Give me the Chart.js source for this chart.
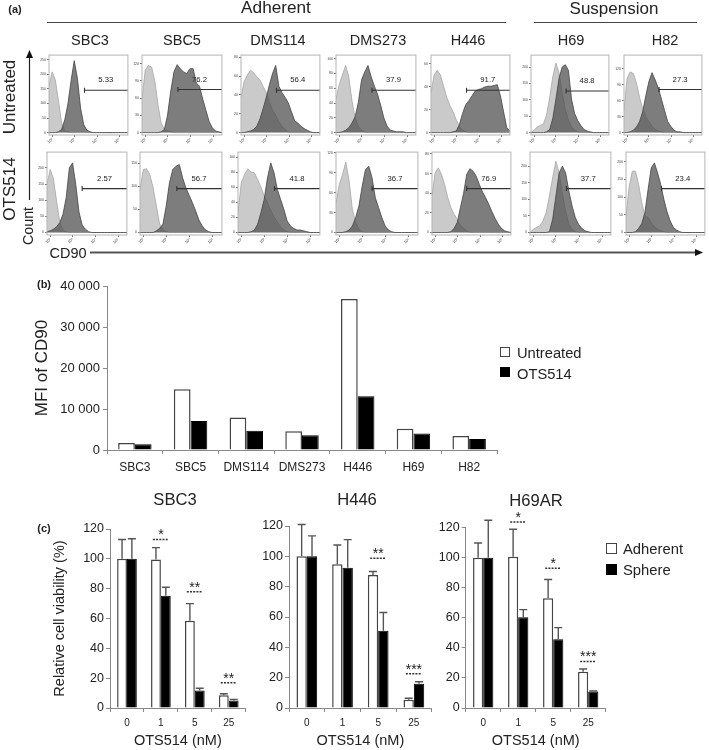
<!DOCTYPE html>
<html>
<head>
<meta charset="utf-8">
<title>CD90 expression and cell viability</title>
<script src="https://cdn.jsdelivr.net/npm/chart.js@4"></script>
<style>
    body { margin: 0; background: #fff; font-family: "Liberation Sans", Arial, sans-serif; color: #222; }
    #page { position: relative; width: 709px; height: 750px; overflow: hidden; filter: blur(0.35px); }
    #page canvas { position: absolute; }
    .txt { position: absolute; white-space: nowrap; transform: translate(-50%, -50%); line-height: 1; }
    .box { position: absolute; width: 10px; height: 10px; box-sizing: border-box; border: 1.5px solid #333; }
    svg { position: absolute; left: 0; top: 0; }
</style>
</head>
<body>
<div id="page">
    <svg width="709" height="750">
        <line x1="47" y1="22.5" x2="506" y2="22.5" stroke="#444" stroke-width="1"/>
        <line x1="534" y1="22.5" x2="697" y2="22.5" stroke="#444" stroke-width="1"/>
        <line x1="29.5" y1="56" x2="29.5" y2="200" stroke="#222" stroke-width="1.2"/>
        <polygon points="29.5,50 26,58 33,58" fill="#111"/>
        <line x1="90" y1="252.5" x2="696" y2="252.5" stroke="#555" stroke-width="2"/>
        <polygon points="703,252.5 695,249 695,256" fill="#111"/>
    </svg>
</div>

<script>
// Panel (a): flow cytometry histograms, height in % of the panel, one value per bin
const histBins = [0, 4, 8, 12, 16, 20, 24, 28, 32, 36, 40, 44, 48, 52, 56, 60, 64, 68, 72, 76, 80, 84, 88, 92, 96, 100];
const cellLines = ['SBC3', 'SBC5', 'DMS114', 'DMS273', 'H446', 'H69', 'H82'];

const isoU_SBC3 = [58, 76, 66, 40, 12, 2, 1, 0, 0, 0, 0, 0, 0, 0, 0, 0, 0, 0, 0, 0, 0, 0, 0, 0, 0, 0];
const cd90U_SBC3 = [0, 0, 0, 1, 4, 16, 36, 65, 90, 68, 31, 10, 3, 1, 0, 0, 0, 0, 0, 0, 0, 0, 0, 0, 0, 0];
const isoU_SBC5 = [42, 78, 84, 82, 65, 35, 12, 4, 2, 1, 0, 0, 0, 0, 0, 0, 0, 0, 0, 0, 0, 0, 0, 0, 0, 0];
const cd90U_SBC5 = [0, 0, 0, 0, 0, 0, 1, 4, 22, 52, 76, 85, 80, 76, 74, 80, 80, 62, 58, 42, 28, 14, 6, 2, 1, 0];
const isoU_DMS114 = [44, 64, 72, 78, 75, 70, 66, 58, 50, 38, 28, 22, 14, 8, 4, 1, 0, 0, 0, 0, 0, 0, 0, 0, 0, 0];
const cd90U_DMS114 = [0, 0, 1, 2, 4, 8, 17, 30, 44, 60, 74, 84, 58, 50, 44, 37, 26, 15, 12, 8, 5, 3, 1, 0, 0, 0];
const isoU_DMS273 = [42, 60, 72, 84, 70, 40, 18, 8, 3, 1, 0, 0, 0, 0, 0, 0, 0, 0, 0, 0, 0, 0, 0, 0, 0, 0];
const cd90U_DMS273 = [0, 0, 1, 3, 6, 12, 20, 38, 66, 76, 84, 70, 58, 48, 34, 18, 8, 3, 2, 1, 1, 1, 0, 0, 0, 0];
const isoU_H446 = [50, 72, 78, 72, 58, 44, 34, 26, 16, 8, 3, 1, 0, 0, 0, 0, 0, 0, 0, 0, 0, 0, 0, 0, 0, 0];
const cd90U_H446 = [0, 0, 0, 0, 0, 0, 0, 1, 2, 10, 24, 35, 40, 46, 52, 54, 55, 57, 58, 58, 59, 60, 46, 26, 6, 2];
const isoU_H69 = [0, 3, 7, 9, 11, 22, 44, 70, 87, 75, 50, 30, 16, 7, 3, 1, 0, 0, 0, 0, 0, 0, 0, 0, 0, 0];
const cd90U_H69 = [0, 0, 0, 0, 0, 1, 4, 18, 42, 68, 82, 85, 78, 42, 24, 15, 9, 4, 2, 1, 0, 0, 0, 0, 0, 0];
const isoU_H82 = [28, 68, 76, 74, 62, 44, 30, 20, 14, 8, 4, 2, 1, 0, 0, 0, 0, 0, 0, 0, 0, 0, 0, 0, 0, 0];
const cd90U_H82 = [0, 0, 1, 3, 7, 14, 26, 46, 64, 75, 66, 56, 42, 28, 14, 8, 3, 1, 1, 0, 0, 0, 0, 0, 0, 0];

const isoT_SBC3 = [58, 76, 65, 38, 12, 3, 1, 0, 0, 0, 0, 0, 0, 0, 0, 0, 0, 0, 0, 0, 0, 0, 0, 0, 0, 0];
const cd90T_SBC3 = [1, 2, 4, 7, 12, 22, 42, 78, 84, 58, 25, 9, 4, 1, 0, 0, 0, 0, 0, 0, 0, 0, 0, 0, 0, 0];
const isoT_SBC5 = [52, 76, 77, 70, 54, 32, 10, 3, 1, 0, 0, 0, 0, 0, 0, 0, 0, 0, 0, 0, 0, 0, 0, 0, 0, 0];
const cd90T_SBC5 = [0, 0, 0, 0, 0, 2, 5, 10, 32, 60, 76, 80, 82, 66, 54, 45, 36, 26, 15, 8, 3, 1, 0, 0, 0, 0];
const isoT_DMS114 = [24, 60, 70, 77, 73, 72, 64, 55, 44, 36, 27, 19, 13, 7, 3, 1, 0, 0, 0, 0, 0, 0, 0, 0, 0, 0];
const cd90T_DMS114 = [0, 0, 0, 0, 1, 3, 10, 24, 40, 66, 84, 72, 52, 40, 28, 14, 8, 5, 3, 3, 2, 1, 0, 0, 0, 0];
const isoT_DMS273 = [35, 58, 70, 85, 62, 28, 12, 4, 1, 0, 0, 0, 0, 0, 0, 0, 0, 0, 0, 0, 0, 0, 0, 0, 0, 0];
const cd90T_DMS273 = [0, 0, 0, 1, 3, 8, 18, 32, 56, 76, 80, 66, 42, 30, 18, 8, 3, 1, 0, 0, 0, 0, 0, 0, 0, 0];
const isoT_H446 = [45, 72, 78, 70, 58, 42, 30, 22, 16, 9, 5, 2, 0, 0, 0, 0, 0, 0, 0, 0, 0, 0, 0, 0, 0, 0];
const cd90T_H446 = [0, 0, 0, 0, 0, 0, 1, 5, 12, 30, 47, 70, 77, 74, 68, 58, 49, 42, 34, 25, 17, 10, 5, 2, 1, 0];
const isoT_H69 = [0, 4, 6, 8, 14, 24, 44, 66, 86, 72, 48, 26, 10, 4, 1, 0, 0, 0, 0, 0, 0, 0, 0, 0, 0, 0];
const cd90T_H69 = [0, 0, 0, 0, 0, 0, 1, 16, 44, 72, 80, 72, 50, 32, 18, 10, 5, 2, 1, 0, 0, 0, 0, 0, 0, 0];
const isoT_H82 = [20, 55, 74, 74, 58, 36, 20, 18, 12, 7, 4, 2, 1, 0, 0, 0, 0, 0, 0, 0, 0, 0, 0, 0, 0, 0];
const cd90T_H82 = [0, 0, 0, 1, 5, 11, 24, 52, 78, 84, 72, 58, 40, 25, 14, 6, 3, 1, 0, 0, 0, 0, 0, 0, 0, 0];

// Gate values, gate start on the x axis and gate height
const gateLabelsU = ['5.33', '76.2', '56.4', '37.9', '91.7', '48.8', '27.3'];
const gateLabelsT = ['2.57', '56.7', '41.8', '36.7', '76.9', '37.7', '23.4'];
const gateStartU = [45, 45, 45, 45, 45, 45, 45];
const gateStartT = [44, 45, 44.5, 44, 44, 45, 45];
const gateHeightU = [53, 54, 53, 53, 53, 52, 54];
const gateHeightT = [53, 53, 53, 53, 53, 53, 53];

const histXTicks = [4, 32, 61, 89];
const histXLabels = ['10²', '10³', '10⁴', '10⁵'];
const histYLabelsU = [
    ['0', '50', '100', '150', '200', '250'], ['0', '30', '60', '90', '120'], ['0', '20', '40', '60', '80'],
    ['0', '20', '40', '60', '80', '100'], ['0', '20', '40', '60'], ['0', '50', '100', '150', '200'], ['0', '30', '60', '90', '120']
];
const histYLabelsT = [
    ['0', '50', '100', '150', '200'], ['0', '50', '100', '150'], ['0', '20', '40', '60', '80', '100'],
    ['0', '30', '60', '90', '120'], ['0', '20', '40', '60', '80'], ['0', '50', '100', '150', '200'], ['0', '50', '100', '150', '200']
];
const histYStepU = [18.2, 21.6, 23.6, 18.5, 28.8, 20.5, 20];
const histYStepT = [19.5, 27.8, 18.1, 24, 23.7, 20, 21.4];

// Panel (b)
const mfiUntreated = [1700, 14800, 7900, 4600, 36800, 5200, 3400];
const mfiOTS514 = [1400, 7100, 4700, 3600, 13100, 4000, 2700];

// Panel (c): bar height, top of the error bar, significance stars and height of their dotted line
const doses = ['0', '1', '5', '25'];

const sbc3Adherent = [100, 99.5, 58.5, 8.5];
const sbc3AdherentTop = [113, 107.5, 70, 9.6];
const sbc3Sphere = [100, 75.3, 11.8, 5.1];
const sbc3SphereTop = [113.5, 81, 13.2, 5.8];
const sbc3Stars = ['', '*', '**', '**'];
const sbc3StarLine = [null, 113, 78, 17];

const h446Adherent = [100, 94.7, 87.7, 5.5];
const h446AdherentTop = [121, 107.5, 90, 6.4];
const h446Sphere = [100, 92.5, 51, 16];
const h446SphereTop = [113.5, 111, 63, 17.3];
const h446Stars = ['', '', '**', '***'];
const h446StarLine = [null, null, 98.7, 22.6];

const h69arAdherent = [100, 100.7, 73, 24.2];
const h69arAdherentTop = [109.8, 119, 85.5, 26];
const h69arSphere = [100, 60.4, 45.8, 11];
const h69arSphereTop = [125, 65.5, 53.5, 11.3];
const h69arStars = ['', '*', '*', '***'];
const h69arStarLine = [null, 123.8, 93, 31];

Chart.defaults.font.family = '"Liberation Sans", Arial, sans-serif';
Chart.defaults.color = '#222';
Chart.defaults.animation = false;
Chart.defaults.responsive = false;
Chart.defaults.plugins.legend.display = false;
Chart.defaults.plugins.tooltip.enabled = false;

const page = document.getElementById('page');

function addCanvas(left, top, width, height) {
    const c = document.createElement('canvas');
    c.width = width;
    c.height = height;
    c.style.left = left + 'px';
    c.style.top = top + 'px';
    page.appendChild(c);
    return c;
}

function label(text, x, y, size, extra) {
    const d = document.createElement('div');
    d.className = 'txt';
    d.textContent = text;
    d.style.left = x + 'px';
    d.style.top = y + 'px';
    d.style.fontSize = size + 'px';
    if (extra && extra.bold) d.style.fontWeight = 'bold';
    if (extra && extra.rotate) d.style.transform = 'translate(-50%, -50%) rotate(-90deg)';
    page.appendChild(d);
}

function legendItem(text, boxX, boxY, boxSize, textX, textY, size, fill) {
    const b = document.createElement('div');
    b.className = 'box';
    b.style.left = boxX + 'px';
    b.style.top = boxY + 'px';
    b.style.width = boxSize + 'px';
    b.style.height = boxSize + 'px';
    b.style.background = fill;
    b.style.borderColor = fill === '#000' ? '#000' : '#444';
    page.appendChild(b);
    const d = document.createElement('div');
    d.className = 'txt';
    d.textContent = text;
    d.style.left = textX + 'px';
    d.style.top = textY + 'px';
    d.style.fontSize = size + 'px';
    d.style.transform = 'translate(0, -50%)';
    page.appendChild(d);
}

// Grey frame around a histogram and its gate value
const histFrame = {
    id: 'histFrame',
    afterDraw(chart, args, opts) {
        const a = chart.chartArea, ctx = chart.ctx;
        ctx.save();
        ctx.strokeStyle = '#b4b4b4';
        ctx.lineWidth = 1;
        ctx.strokeRect(a.left, a.top, a.right - a.left, a.bottom - a.top);
        ctx.fillStyle = '#222';
        ctx.font = '7.7px "Liberation Sans", Arial, sans-serif';
        ctx.textAlign = 'center';
        ctx.textBaseline = 'middle';
        ctx.fillText(opts.text, chart.scales.x.getPixelForValue(72), chart.scales.y.getPixelForValue(opts.gateY) - 10);
        ctx.restore();
    }
};

function histogram(box, iso, cd90, gateStart, gateY, gateText, yLabels, yStep) {
    const padL = 14, padB = 12, padT = 2, padR = 2;
    const width = box[1] - box[0] + padL + padR;
    const height = box[3] - box[2] + padT + padB;
    const toPoints = vals => histBins.map((x, i) => ({ x: x, y: vals[i] }));
    new Chart(addCanvas(box[0] - padL, box[2] - padT, width, height), {
        type: 'line',
        plugins: [histFrame],
        data: {
            datasets: [
                {
                    data: [{ x: gateStart, y: gateY }, { x: 100, y: gateY }],
                    borderColor: '#333', borderWidth: 1.1,
                    pointStyle: 'line', rotation: 90, pointRadius: [2.5, 0],
                    pointBorderColor: '#333', pointBorderWidth: 1.1
                },
                {
                    data: toPoints(cd90), fill: 'origin', pointRadius: 0,
                    borderColor: '#444', borderWidth: 0.8, backgroundColor: 'rgba(75, 75, 75, 0.72)'
                },
                {
                    data: toPoints(iso), fill: 'origin', pointRadius: 0,
                    borderColor: '#a6a6a6', borderWidth: 0.8, backgroundColor: '#cacaca'
                }
            ]
        },
        options: {
            layout: { padding: { top: padT, right: padR } },
            plugins: { histFrame: { text: gateText, gateY: gateY } },
            scales: {
                x: {
                    type: 'linear', min: 0, max: 100,
                    grid: { drawOnChartArea: false, tickLength: 2, color: '#777' },
                    border: { display: false },
                    afterFit: s => { s.height = padB; },
                    afterBuildTicks: s => { s.ticks = histXTicks.map(v => ({ value: v })); },
                    ticks: {
                        autoSkip: false, minRotation: 45, maxRotation: 45, padding: 0,
                        font: { size: 4 }, color: '#444',
                        callback: (v, i) => histXLabels[i]
                    }
                },
                y: {
                    min: -3, max: 97,
                    grid: { drawOnChartArea: false, tickLength: 2, color: '#777' },
                    border: { display: false },
                    afterFit: s => { s.width = padL; },
                    afterBuildTicks: s => { s.ticks = yLabels.map((l, i) => ({ value: i * yStep })); },
                    ticks: {
                        autoSkip: false, padding: 1,
                        font: { size: 3.5 }, color: '#444',
                        callback: (v, i) => yLabels[i]
                    }
                }
            }
        }
    });
}

const boxesU = [[49, 131], [142, 225], [241, 323], [336, 419], [431, 513], [531, 612], [624, 705]];
const boxesT = [[47, 130], [140, 225], [238, 323], [336, 421], [432, 514], [530, 614], [626, 708]];
const isoU = [isoU_SBC3, isoU_SBC5, isoU_DMS114, isoU_DMS273, isoU_H446, isoU_H69, isoU_H82];
const cd90U = [cd90U_SBC3, cd90U_SBC5, cd90U_DMS114, cd90U_DMS273, cd90U_H446, cd90U_H69, cd90U_H82];
const isoT = [isoT_SBC3, isoT_SBC5, isoT_DMS114, isoT_DMS273, isoT_H446, isoT_H69, isoT_H82];
const cd90T = [cd90T_SBC3, cd90T_SBC5, cd90T_DMS114, cd90T_DMS273, cd90T_H446, cd90T_H69, cd90T_H82];

cellLines.forEach((name, i) => {
    histogram([boxesU[i][0], boxesU[i][1], 52, 135], isoU[i], cd90U[i], gateStartU[i], gateHeightU[i], gateLabelsU[i], histYLabelsU[i], histYStepU[i]);
    histogram([boxesT[i][0], boxesT[i][1], 149, 235], isoT[i], cd90T[i], gateStartT[i], gateHeightT[i], gateLabelsT[i], histYLabelsT[i], histYStepT[i]);
});

// Headers of panel (a)
label('(a)', 15, 9, 11, { bold: true });
label('Adherent', 276, 8, 17.2);
label('Suspension', 614, 8, 17);
const headerX = [90, 182, 278, 378, 468, 571, 665];
cellLines.forEach((name, i) => label(name, headerX[i], 39.5, 14.5));
label('Untreated', 9, 97, 17, { rotate: true });
label('OTS514', 9, 189, 17, { rotate: true });
label('Count', 28, 226, 14.3, { rotate: true });
label('CD90', 68, 252.5, 14.5);

// Panel (b)
label('(b)', 44, 284, 11, { bold: true });
new Chart(addCanvas(0, 270, 520, 205), {
    type: 'bar',
    data: {
        labels: cellLines,
        datasets: [
            { label: 'Untreated', data: mfiUntreated, backgroundColor: '#fff', borderColor: '#444', borderWidth: 1.5 },
            { label: 'OTS514', data: mfiOTS514, backgroundColor: '#000', borderColor: '#000', borderWidth: 1 }
        ]
    },
    options: {
        layout: { padding: { top: 16, right: 23 } },
        datasets: { bar: { categoryPercentage: 0.6, barPercentage: 1 } },
        scales: {
            x: {
                grid: { drawOnChartArea: false, tickLength: 4, color: '#888' },
                border: { color: '#888' },
                afterFit: s => { s.height = 25; },
                ticks: { padding: 6, maxRotation: 0, autoSkip: false, font: { size: 12 } }
            },
            y: {
                min: 0, max: 40000,
                grid: { drawOnChartArea: false, tickLength: 4, color: '#888' },
                border: { color: '#888' },
                afterFit: s => { s.width = 107; },
                title: { display: true, text: 'MFI of CD90', font: { size: 17 }, padding: { top: 32, bottom: 0 } },
                ticks: {
                    stepSize: 10000, padding: 3, font: { size: 13 },
                    callback: v => String(v).replace(/\B(?=(\d{3})+$)/g, ' ')
                }
            }
        }
    }
});
legendItem('Untreated', 500, 347, 10, 517, 352.5, 14.7, '#fff');
legendItem('OTS514', 500, 367, 10, 517, 374, 14.7, '#000');

// Upper error bars and significance marks of panel (c)
const errorBars = {
    id: 'errorBars',
    afterDatasetsDraw(chart, args, opts) {
        const ctx = chart.ctx, y = chart.scales.y;
        ctx.save();
        ctx.strokeStyle = '#555';
        ctx.lineWidth = 1.4;
        opts.tops.forEach((tops, d) => {
            chart.getDatasetMeta(d).data.forEach((bar, i) => {
                const top = y.getPixelForValue(tops[i]);
                ctx.beginPath();
                ctx.moveTo(bar.x, bar.y);
                ctx.lineTo(bar.x, top);
                ctx.moveTo(bar.x - 4, top);
                ctx.lineTo(bar.x + 4, top);
                ctx.stroke();
            });
        });
        opts.stars.forEach((s, i) => {
            if (!s) return;
            const cx = chart.scales.x.getPixelForValue(i), ly = y.getPixelForValue(opts.lines[i]);
            ctx.strokeStyle = '#333';
            ctx.lineWidth = 1.5;
            ctx.setLineDash([2, 1.2]);
            ctx.beginPath();
            ctx.moveTo(cx - 8, ly);
            ctx.lineTo(cx + 8, ly);
            ctx.stroke();
            ctx.setLineDash([]);
            ctx.fillStyle = '#222';
            ctx.font = '14px "Liberation Sans", Arial, sans-serif';
            ctx.textAlign = 'center';
            ctx.textBaseline = 'alphabetic';
            ctx.fillText(s, cx, ly);
        });
        ctx.restore();
    }
};

function viability(left, width, axisW, padTop, padRight, title, adherent, adherentTop, sphere, sphereTop, stars, starLine, showYTitle) {
    const yScale = {
        min: 0, max: 120,
        grid: { drawOnChartArea: false, tickLength: 4, color: '#888' },
        border: { color: '#888' },
        afterFit: s => { s.width = axisW; },
        ticks: { stepSize: 20, padding: 2, font: { size: 12.5 } }
    };
    if (showYTitle) {
        yScale.title = { display: true, text: 'Relative cell viability (%)', font: { size: 14.5 }, padding: { top: 21, bottom: 0 } };
    }
    new Chart(addCanvas(left, 510, width, 240), {
        type: 'bar',
        plugins: [errorBars],
        data: {
            labels: doses,
            datasets: [
                { label: 'Adherent', data: adherent, backgroundColor: '#fff', borderColor: '#444', borderWidth: 1.5 },
                { label: 'Sphere', data: sphere, backgroundColor: '#000', borderColor: '#000', borderWidth: 1 }
            ]
        },
        options: {
            layout: { padding: { top: padTop, right: padRight } },
            datasets: { bar: { categoryPercentage: 0.58, barPercentage: 1 } },
            plugins: { errorBars: { tops: [adherentTop, sphereTop], stars: stars, lines: starLine } },
            scales: {
                x: {
                    grid: { drawOnChartArea: false, tickLength: 4, color: '#888' },
                    border: { color: '#888' },
                    afterFit: s => { s.height = 42; },
                    ticks: { padding: 5, maxRotation: 0, autoSkip: false, font: { size: 10 } },
                    title: { display: true, text: 'OTS514 (nM)', font: { size: 14.5 }, padding: 0 }
                },
                y: yScale
            }
        }
    });
}

label('(c)', 44, 528, 11, { bold: true });
viability(30, 225, 80, 19, 9.3, 'SBC3', sbc3Adherent, sbc3AdherentTop, sbc3Sphere, sbc3SphereTop, sbc3Stars, sbc3StarLine, true);
viability(250, 190, 39, 16, 8.3, 'H446', h446Adherent, h446AdherentTop, h446Sphere, h446SphereTop, h446Stars, h446StarLine, false);
viability(435, 180, 30.7, 17.7, 9.3, 'H69AR', h69arAdherent, h69arAdherentTop, h69arSphere, h69arSphereTop, h69arStars, h69arStarLine, false);
label('SBC3', 175, 499.5, 16.6);
label('H446', 357, 499.5, 16.6);
label('H69AR', 536, 501, 16.6);
legendItem('Adherent', 606, 543, 11, 623, 548.5, 14.8, '#fff');
legendItem('Sphere', 606, 564, 11, 623, 570, 14.8, '#000');
</script>
</body>
</html>
